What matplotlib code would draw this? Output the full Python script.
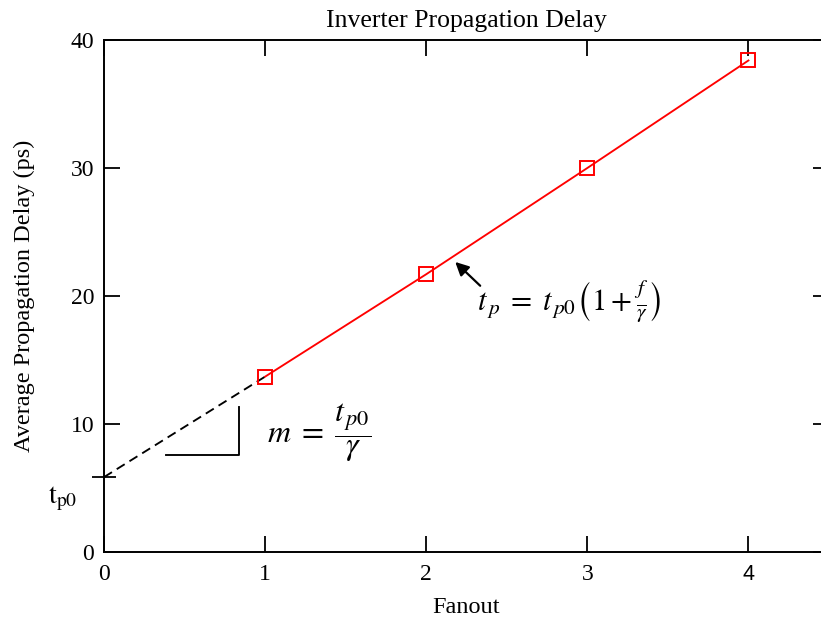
#!/usr/bin/env python3
"""
Inverter propagation delay vs fanout, with linear extrapolation to t_p0.
"""

import matplotlib
matplotlib.use("Agg")
import matplotlib.pyplot as plt

# =============================================================================
# Data
# =============================================================================

FANOUT = [1, 2, 3, 4]
DELAY_PS = [13.7, 21.7, 30.0, 38.4]
TP0 = 5.85                      # extrapolated intrinsic delay at fanout 0

X_TICKS = [0, 1, 2, 3, 4]
Y_TICKS = [0, 10, 20, 30, 40]

# slope triangle (data coords)
TRI_X = [0.385, 0.84, 0.84]
TRI_Y = [7.58, 7.58, 11.33]

# =============================================================================
# Style
# =============================================================================

plt.rcParams['font.family'] = ['Liberation Serif', 'DejaVu Serif']
plt.rcParams['mathtext.fontset'] = 'stix'
RED = "#ff0000"
FONT_TICK = 17
FONT_LABEL = 18.5
FONT_MATH = 22
LW = 1.35

fig = plt.figure(figsize=(8.21, 6.21), dpi=100)
# right edge of the axes runs slightly past the figure, as in the original
ax = fig.add_axes([104 / 821, 69 / 621, 725 / 821, 512 / 621])

# =============================================================================
# Plot
# =============================================================================

ax.plot([0, FANOUT[0]], [TP0, DELAY_PS[0]], color='black', lw=LW,
        dashes=(5, 3))
ax.plot(FANOUT, DELAY_PS, color=RED, lw=LW, marker='s', markersize=9.5,
        markerfacecolor='none', markeredgecolor=RED, markeredgewidth=1.4,
        zorder=3)
ax.plot(TRI_X, TRI_Y, color='black', lw=LW)

ax.set_xlim(0, 4.5)
ax.set_ylim(0, 40)
ax.set_xticks(X_TICKS)
ax.set_yticks(Y_TICKS)
ax.set_xticklabels([str(v) for v in X_TICKS], fontsize=FONT_TICK)
ax.set_yticklabels([str(v) for v in Y_TICKS], fontsize=FONT_TICK)
ax.get_xticklabels()[-1].set_family('Liberation Sans')
ax.get_xticklabels()[-1].set_fontsize(FONT_TICK - 1.5)

ax.tick_params(direction='in', length=11.5, width=1.3, top=True, right=True)
ax.tick_params(axis='x', pad=9)
ax.tick_params(axis='y', pad=7)

# t_p0 marker crossing the y axis
ax.set_yticks([TP0], minor=True)
ax.tick_params(axis='y', which='minor', direction='inout', length=17,
               width=1.3, right=False)
ax.text(-0.26, TP0 - 1.7, r'$\mathrm{t}_{\mathrm{p0}}$', fontsize=FONT_TICK + 3,
        ha='center', va='center')

for spine in ax.spines.values():
    spine.set_linewidth(1.4)

ax.set_title("Inverter Propagation Delay", fontsize=FONT_LABEL, pad=9)
ax.set_xlabel("Fanout", fontsize=FONT_LABEL - 1, labelpad=8)
ax.set_ylabel("Average Propagation Delay (ps)", fontsize=FONT_LABEL - 1,
              labelpad=26)

ax.text(1.335, 9.3, r'$m\;=\;\dfrac{t_{\,p0}}{\gamma}$', fontsize=FONT_MATH + 1,
        ha='center', va='center')
ax.text(2.89, 19.5,
        r'$t_{\,p}\;=\;t_{\,p0}\left(1 + \frac{f}{\gamma}\right)$',
        fontsize=FONT_MATH, ha='center', va='center')
ax.annotate('', xy=(2.18, 22.66), xytext=(2.335, 20.8),
            arrowprops=dict(arrowstyle='-|>', color='black', lw=1.6,
                            mutation_scale=20, shrinkA=0, shrinkB=0))

fig.savefig("out.png", dpi=100)
